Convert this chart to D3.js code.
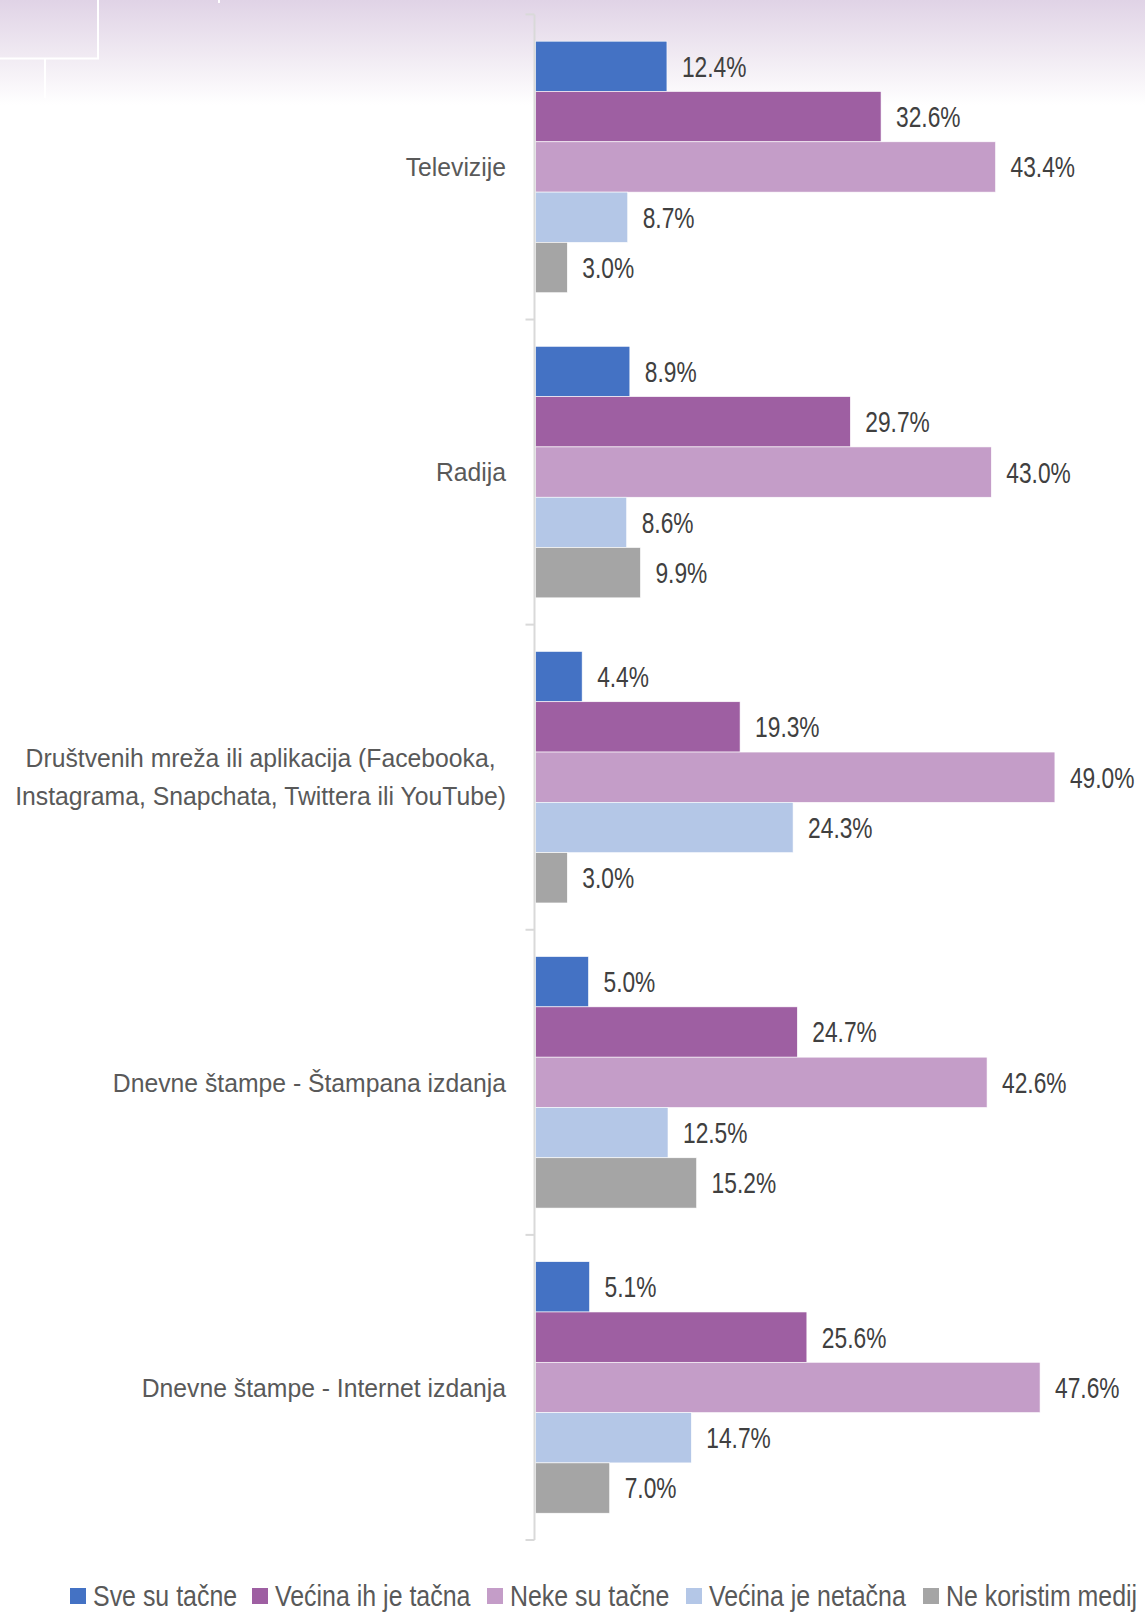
<!DOCTYPE html>
<html>
<head>
<meta charset="utf-8">
<script src="https://cdn.jsdelivr.net/npm/d3@7"></script>
<style>
  html, body { margin: 0; padding: 0; background: #fff; }
  svg { display: block; }
  text { font-family: "Liberation Sans", Arial, sans-serif; }
</style>
</head>
<body>
<script>
// Media categories (each label may span several lines)
const categories = [
  ["Televizije"],
  ["Radija"],
  ["Društvenih mreža ili aplikacija (Facebooka,", "Instagrama, Snapchata, Twittera ili YouTube)"],
  ["Dnevne štampe - Štampana izdanja"],
  ["Dnevne štampe - Internet izdanja"]
];
const seriesNames = ["Sve su tačne", "Većina ih je tačna", "Neke su tačne", "Većina je netačna", "Ne koristim medij"];
const seriesColors = ["#4472c4", "#9e5fa2", "#c49dc8", "#b4c7e7", "#a5a5a5"];

// Percentages per category, in series order
const svesuTacne    = [12.4, 8.9, 4.4, 5.0, 5.1];
const vecinaTacna   = [32.6, 29.7, 19.3, 24.7, 25.6];
const nekeTacne     = [43.4, 43.0, 49.0, 42.6, 47.6];
const vecinaNetacna = [8.7, 8.6, 24.3, 12.5, 14.7];
const neKoristim    = [3.0, 9.9, 3.0, 15.2, 7.0];
const seriesValues = [svesuTacne, vecinaTacna, nekeTacne, vecinaNetacna, neKoristim];

const W = 1145, H = 1613;
const svg = d3.select("body").append("svg").attr("width", W).attr("height", H);

// narrow lettering: text is drawn at its anchor and squeezed horizontally
const narrow = (sel, sx) => sel.attr("transform", function () {
  const px = +this.getAttribute("data-x"), py = +this.getAttribute("data-y");
  return `translate(${px},${py}) scale(${sx},1)`;
});

// soft lavender wash at the top of the page
const defs = svg.append("defs");
const grad = defs.append("linearGradient").attr("id", "topWash")
  .attr("x1", 0).attr("y1", 0).attr("x2", 0).attr("y2", 1);
grad.append("stop").attr("offset", "0%").attr("stop-color", "#e0d3e6");
grad.append("stop").attr("offset", "55%").attr("stop-color", "#f1ebf3");
grad.append("stop").attr("offset", "100%").attr("stop-color", "#ffffff");
svg.append("rect").attr("x", 0).attr("y", 0).attr("width", W).attr("height", 105).attr("fill", "url(#topWash)");

// decorative white frame lines, top left
const deco = svg.append("g").attr("stroke", "#ffffff").attr("stroke-width", 2).attr("fill", "none");
deco.append("path").attr("d", "M0,58.5 H98 V0");
deco.append("path").attr("d", "M45,59 V98");
deco.append("path").attr("d", "M219,0 V3");

const plotTop = 14.4, plotBottom = 1540;
const axisX = 535.5;

const y = d3.scaleBand().domain(d3.range(categories.length)).range([plotTop, plotBottom]).padding(0);
const inner = d3.scaleBand().domain(d3.range(seriesNames.length))
  .range([26.8, y.bandwidth() - 26.8]).padding(0);
const x = d3.scaleLinear().domain([0, 50]).range([axisX, axisX + 530]);

// bars
const groups = svg.append("g").selectAll("g").data(categories).join("g")
  .attr("transform", (d, i) => `translate(0,${y(i)})`);

groups.each(function (cat, ci) {
  const g = d3.select(this);
  const rows = seriesNames.map((s, si) => ({ si, v: seriesValues[si][ci] }));
  g.selectAll("rect").data(rows).join("rect")
    .attr("x", x(0))
    .attr("y", d => inner(d.si))
    .attr("width", d => x(d.v) - x(0))
    .attr("height", inner.bandwidth())
    .attr("fill", d => seriesColors[d.si])
    .attr("stroke", "#ffffff")
    .attr("stroke-width", 0.6);
  g.selectAll("text.val").data(rows).join("text")
    .attr("class", "val")
    .attr("data-x", d => x(d.v) + 15)
    .attr("data-y", d => inner(d.si) + inner.bandwidth() / 2)
    .attr("dy", "0.36em")
    .attr("font-size", 29)
    .attr("fill", "#404040")
    .text(d => d.v.toFixed(1) + "%")
    .call(narrow, 0.785);
});

// category axis with ticks between groups
const axisG = svg.append("g");
axisG.append("line").attr("x1", axisX - 1).attr("x2", axisX - 1)
  .attr("y1", plotTop).attr("y2", plotBottom).attr("stroke", "#d9d9d9").attr("stroke-width", 2);
axisG.selectAll("line.tick").data(d3.range(categories.length + 1)).join("line")
  .attr("class", "tick")
  .attr("x1", axisX - 10).attr("x2", axisX - 1)
  .attr("y1", i => plotTop + i * y.step()).attr("y2", i => plotTop + i * y.step())
  .attr("stroke", "#d9d9d9").attr("stroke-width", 2);

// category labels: block right-aligned at the axis, lines centred on each other
const labelRight = 506, lineGap = 38, catScale = 0.97;
categories.forEach((lines, i) => {
  const cy = y(i) + y.bandwidth() / 2;
  const t = axisG.append("text")
    .attr("font-size", 25.5)
    .attr("fill", "#595959")
    .attr("text-anchor", "middle");
  const spans = lines.map((ln, k) => t.append("tspan")
    .attr("x", 0)
    .attr("y", (k - (lines.length - 1) / 2) * lineGap)
    .attr("dy", "0.36em")
    .text(ln));
  const maxW = d3.max(spans, s => s.node().getComputedTextLength()) * catScale;
  t.attr("transform", `translate(${labelRight - maxW / 2},${cy}) scale(${catScale},1)`);
});

// legend
const legendX = [70, 252, 487, 686, 923];
const legend = svg.append("g").attr("transform", "translate(0,1596)");
const items = legend.selectAll("g").data(seriesNames).join("g")
  .attr("transform", (d, i) => `translate(${legendX[i]},0)`);
items.append("rect").attr("x", 0).attr("y", -8).attr("width", 16).attr("height", 16)
  .attr("fill", (d, i) => seriesColors[i]);
items.append("text")
  .attr("data-x", 23).attr("data-y", 0).attr("dy", "0.36em")
  .attr("font-size", 29).attr("fill", "#595959").text(d => d)
  .call(narrow, 0.86);
</script>
</body>
</html>
